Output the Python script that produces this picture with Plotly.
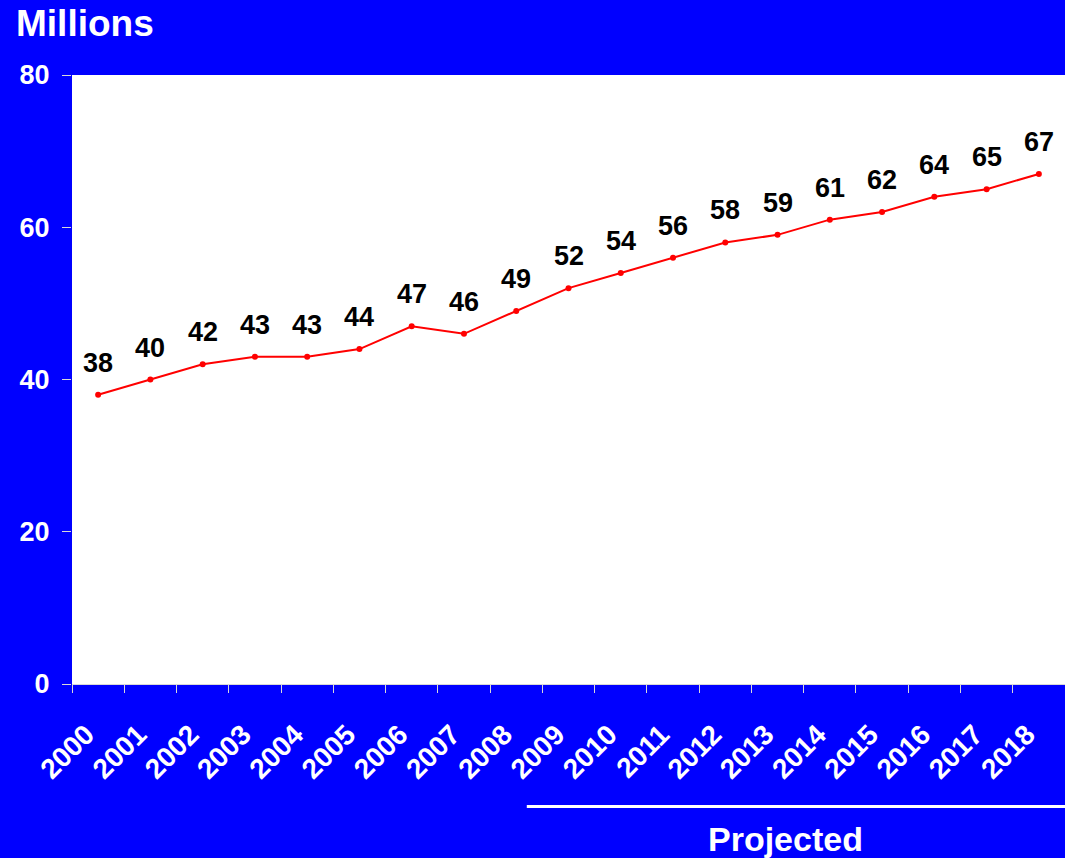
import plotly.graph_objects as go

years = [str(y) for y in range(2000, 2019)]
values = [38, 40, 42, 43, 43, 44, 47, 46, 49, 52, 54, 56, 58, 59, 61, 62, 64, 65, 67]
y_ticks = [0, 20, 40, 60, 80]

BLUE = "#0000FF"
FONT = "Liberation Sans, Arial, sans-serif"

fig = go.Figure()
fig.add_trace(go.Scatter(
    x=years, y=values, mode="lines+markers",
    line=dict(color="#FF0000", width=2),
    marker=dict(color="#FF0000", size=6),
    hoverinfo="skip", showlegend=False,
))

for i, v in enumerate(values):
    fig.add_annotation(x=i, y=v, xref="x", yref="y", text="<b>%d</b>" % v,
                       showarrow=False, yshift=32,
                       font=dict(family=FONT, size=27, color="black"))

fig.add_annotation(xref="paper", yref="paper", x=-0.058, y=1.0, yshift=74,
                   text="<b>Millions</b>", showarrow=False, xanchor="left",
                   font=dict(family=FONT, size=37, color="white"))
fig.add_annotation(xref="paper", yref="paper", x=0.719, y=0, yshift=-176,
                   text="<b>Projected</b>", showarrow=False, xanchor="center",
                   font=dict(family=FONT, size=34, color="white"))
fig.add_shape(type="line", xref="paper", yref="paper", x0=0.458, x1=1.0,
              y0=-0.2012, y1=-0.2012, line=dict(color="white", width=3))

fig.update_layout(
    width=1065, height=858,
    margin=dict(l=72, r=0, t=75, b=174),
    paper_bgcolor=BLUE, plot_bgcolor="white",
    xaxis=dict(
        type="category", range=[-0.5, 18.5], tickson="boundaries",
        ticks="outside", ticklen=8, tickcolor="#d8d8d8", tickwidth=1,
        showline=True, linecolor="#d8d8d8", linewidth=1,
        showgrid=False, tickangle=-45, ticklabelstandoff=22, ticklabelshift=-12,
        tickfont=dict(family=FONT, size=28, color="white", weight="bold"),
    ),
    yaxis=dict(
        range=[0, 80], tickvals=y_ticks, ticks="outside", ticklen=9,
        tickcolor="#d8d8d8", showgrid=False, zeroline=False, showline=False,
        ticklabelstandoff=7,
        tickfont=dict(family=FONT, size=27, color="white", weight="bold"),
    ),
)

fig.write_html("out.html")
